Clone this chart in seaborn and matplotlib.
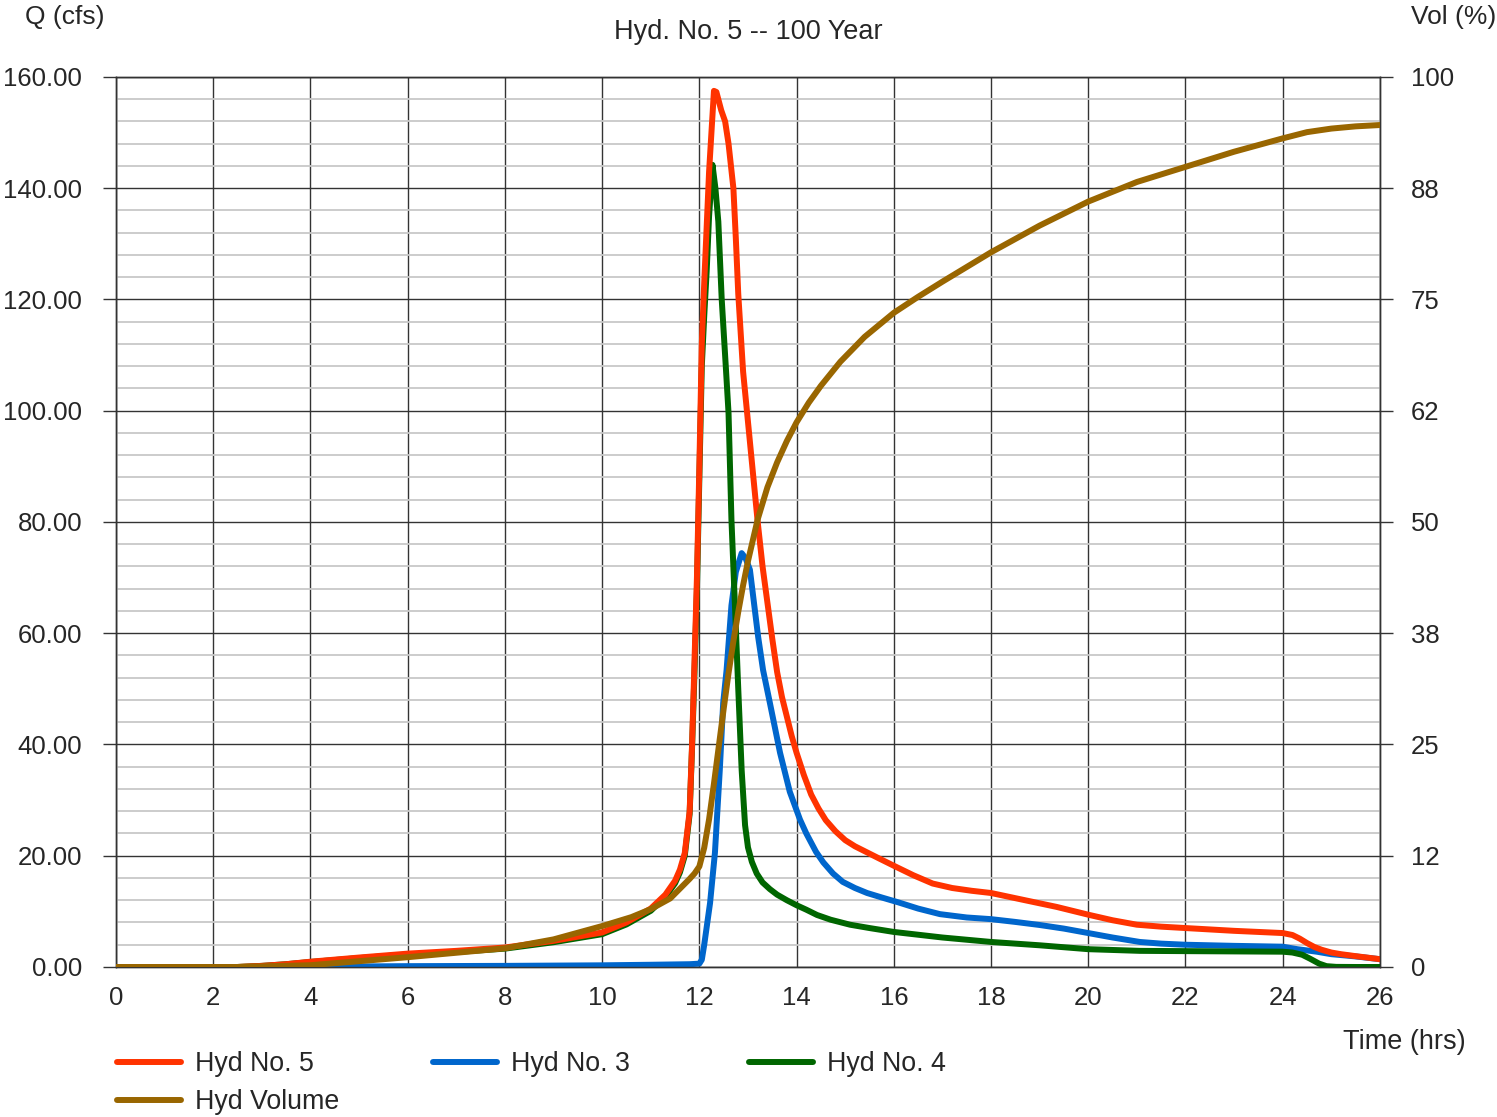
import matplotlib
matplotlib.use("Agg")
import matplotlib.pyplot as plt
import seaborn as sns
from matplotlib.ticker import MultipleLocator, FormatStrFormatter

# Hyd No. 5 (combined) - time (hrs), flow (cfs)
t5 = [0, 2.5, 3, 3.5, 4, 5, 6, 7, 8, 9, 10, 10.5, 11, 11.3, 11.5, 11.6, 11.7, 11.8, 11.85,
      11.9, 11.95, 12.0, 12.05, 12.1, 12.2, 12.3, 12.35, 12.45, 12.53, 12.6, 12.7, 12.75,
      12.8, 12.9, 13.0, 13.1, 13.2, 13.3, 13.4, 13.5, 13.6, 13.7, 13.8, 13.9, 14.0, 14.15,
      14.3, 14.45, 14.6, 14.8, 15.0, 15.2, 15.45, 15.7, 16.0, 16.4, 16.8, 17.2, 17.6, 18.0,
      18.7, 19.35, 20.0, 20.5, 21.0, 21.5, 22.0, 23.0, 24.0, 24.2, 24.35, 24.5, 24.65,
      24.8, 25.0, 25.2, 25.5, 26.0]
q5 = [0, 0, 0.2, 0.5, 0.95, 1.7, 2.4, 2.9, 3.5, 4.7, 6.2, 8.0, 10.5, 13.0, 15.5, 17.5, 20.5,
      28, 40, 55, 70, 90, 112, 123, 143, 157.5, 157.3, 154, 152, 148, 140, 131,
      121, 107, 98, 89, 80, 72, 65.5, 59, 53, 48.5, 45, 41.5, 38.5, 34.5,
      31, 28.5, 26.4, 24.4, 22.8, 21.7, 20.6, 19.5, 18.2, 16.5, 15.0, 14.2, 13.7, 13.3,
      12.0, 10.8, 9.4, 8.4, 7.6, 7.25, 7.0, 6.5, 6.1, 5.75, 5.1, 4.3, 3.6,
      3.1, 2.6, 2.3, 1.95, 1.4]

# Hyd No. 3
t3 = [0, 3, 4, 6, 8, 10, 11, 11.8, 12.0, 12.05, 12.1, 12.22, 12.32, 12.42, 12.49, 12.56,
      12.66, 12.75, 12.87, 12.95, 13.04, 13.21, 13.31, 13.45, 13.66, 13.86, 14.07, 14.2,
      14.4, 14.55, 14.75, 14.95, 15.2, 15.45, 15.75, 16.1, 16.5, 16.95, 17.5, 18.0, 18.5,
      19.0, 19.5, 20.0, 20.5, 21.06, 21.5, 22.0, 23.0, 24.0, 24.3, 24.7, 25.0, 25.5, 26.0]
q3 = [0, 0, 0.05, 0.15, 0.2, 0.3, 0.4, 0.5, 0.6, 1.3, 4, 11.5, 20.5, 35.4, 47.5, 53.4,
      65, 71, 74.4, 73.5, 71.4, 59.3, 53.4, 47.5, 38.5, 31.5, 26.5, 24.0,
      20.7, 18.8, 16.8, 15.3, 14.2, 13.3, 12.5, 11.6, 10.5, 9.5, 8.9, 8.6, 8.1,
      7.55, 6.9, 6.1, 5.3, 4.5, 4.2, 4.0, 3.8, 3.65, 3.2, 2.75, 2.3, 1.9, 1.4]

# Hyd No. 4
t4 = [0, 2.5, 3, 3.5, 4, 5, 6, 7, 8, 9, 10, 10.5, 11, 11.3, 11.5, 11.6, 11.7, 11.8, 11.85,
      11.9, 11.95, 12.0, 12.05, 12.1, 12.15, 12.2, 12.27, 12.33, 12.39, 12.46, 12.55, 12.6,
      12.66, 12.73, 12.8, 12.87, 12.94, 13.0, 13.08, 13.18, 13.3, 13.45, 13.6, 13.8, 14.0,
      14.2, 14.42, 14.7, 15.1, 15.5, 16.0, 17.0, 18.0, 19.0, 20.0, 21.06, 22.0, 23.0, 24.0,
      24.2, 24.4, 24.56, 24.75, 24.9, 25.1, 25.5, 26.0]
q4 = [0, 0, 0.2, 0.5, 0.9, 1.6, 2.25, 2.7, 3.3, 4.45, 5.9, 7.65, 10.1, 12.6, 15.05, 17.0,
      20.0, 27.5, 39.5, 53, 68, 88, 108, 117, 125, 135, 144.2, 140, 134, 120, 107, 99.6,
      80.4, 65.4, 50, 35.4, 25.5, 21.5, 18.9, 16.8, 15.2, 14.0, 13.0, 12.0, 11.1,
      10.3, 9.35, 8.5, 7.6, 7.0, 6.3, 5.3, 4.5, 3.9, 3.2, 2.9, 2.85, 2.8, 2.75,
      2.6, 2.2, 1.5, 0.6, 0.15, 0.02, 0, 0]

# Hyd Volume (%)
tv = [0, 2.5, 4, 6, 8, 9, 10, 10.6, 11, 11.4, 11.6, 11.8, 11.9, 12.0, 12.1, 12.2, 12.3,
      12.4, 12.5, 12.6, 12.7, 12.8, 12.9, 13.0, 13.2, 13.4, 13.6, 13.8, 14.0, 14.25, 14.5,
      14.9, 15.4, 16.0, 16.5, 17.0, 18.0, 19.0, 20.0, 21.0, 22.0, 23.0, 24.0, 24.5,
      25.0, 25.5, 26.0]
vol = [0, 0, 0.2, 1.1, 2.1, 3.1, 4.6, 5.6, 6.5, 7.7, 8.8, 9.9, 10.5, 11.3, 13.4, 16.6, 20.6,
       24.8, 29.0, 33.0, 36.6, 39.9, 42.9, 45.6, 50.3, 53.9, 56.7, 59.1, 61.2, 63.4, 65.3,
       68.0, 70.8, 73.5, 75.3, 77.0, 80.3, 83.3, 86.0, 88.2, 89.9, 91.6, 93.1, 93.8,
       94.2, 94.45, 94.6]

x_ticks = list(range(0, 27, 2))
vol_ticks = [0, 12.5, 25, 37.5, 50, 62.5, 75, 87.5, 100]
vol_labels = ['0', '12', '25', '38', '50', '62', '75', '88', '100']

sns.set_style("white")
plt.rcParams['font.family'] = ['Liberation Sans', 'DejaVu Sans']

fig = plt.figure(figsize=(14.97, 11.17), dpi=100)
ax = fig.add_axes([0.0775, 0.1343, 0.9218 - 0.0775, 0.9311 - 0.1343])
ax2 = ax.twinx()

lw = 4.3
sns.lineplot(x=t3, y=q3, ax=ax, color='#0066cc', linewidth=lw, label='Hyd No. 3', zorder=3, legend=False)
sns.lineplot(x=t4, y=q4, ax=ax, color='#006600', linewidth=lw, label='Hyd No. 4', zorder=4, legend=False)
sns.lineplot(x=t5, y=q5, ax=ax, color='#ff3300', linewidth=lw, label='Hyd No. 5', zorder=5, legend=False)
sns.lineplot(x=tv, y=vol, ax=ax2, color='#996600', linewidth=lw, label='Hyd Volume', zorder=6, legend=False)
for ln in ax.get_lines() + ax2.get_lines():
    ln.set_solid_capstyle('round')
    ln.set_solid_joinstyle('round')

ax.set_xlim(0, 26)
ax.set_ylim(0, 160)
ax2.set_ylim(0, 100)
ax.set_xticks(x_ticks)
ax.yaxis.set_major_locator(MultipleLocator(20))
ax.yaxis.set_minor_locator(MultipleLocator(4))
ax.yaxis.set_major_formatter(FormatStrFormatter('%.2f'))
ax2.set_yticks(vol_ticks)
ax2.set_yticklabels(vol_labels)
ax.set_xlabel('')
ax.set_ylabel('')
ax2.set_ylabel('')

ax.grid(which='major', color='#333333', lw=1.0)
ax.grid(which='minor', axis='y', color='#c8c8c8', lw=1.3)
ax.set_axisbelow(True)
ax2.grid(False)

ax.tick_params(axis='y', which='major', direction='out', length=9.4, width=1, color='#333333',
               pad=15, labelsize=18.5)
ax.tick_params(axis='y', which='minor', length=0)
ax.tick_params(axis='x', length=0, pad=14, labelsize=18.5)
ax2.tick_params(axis='y', direction='out', length=9.4, width=1, color='#333333', pad=13, labelsize=18.5)
for a in (ax, ax2):
    for s in a.spines.values():
        s.set_color('#333333')
        s.set_linewidth(1.0)

fig.text(25 / 1497, 1 - 17 / 1117, 'Q (cfs)', fontsize=19, va='center', ha='left')
fig.text(1 - 1 / 1497, 1 - 17 / 1117, 'Vol (%)', fontsize=19, va='center', ha='right')
fig.text(748 / 1497, 1 - 32 / 1117, 'Hyd. No. 5 -- 100 Year', fontsize=19.5, va='center', ha='center')
fig.text(1466 / 1497, 1 - 1042 / 1117, 'Time (hrs)', fontsize=19.5, va='center', ha='right')

# legend: three equally spaced columns
lines = {ln.get_label(): ln for ln in ax.get_lines() + ax2.get_lines()}
legend_cols = [(117, ['Hyd No. 5', 'Hyd Volume']), (433, ['Hyd No. 3']), (749, ['Hyd No. 4'])]
for x0, names in legend_cols:
    fig.legend([lines[k] for k in names], names, loc='upper left',
               bbox_to_anchor=(x0 / 1497, 1 - 1051 / 1117), frameon=False, fontsize=19.3,
               handlelength=2.4, handletextpad=0.5, labelspacing=0.45,
               borderpad=0, borderaxespad=0)

fig.savefig('out.png', dpi=100)
